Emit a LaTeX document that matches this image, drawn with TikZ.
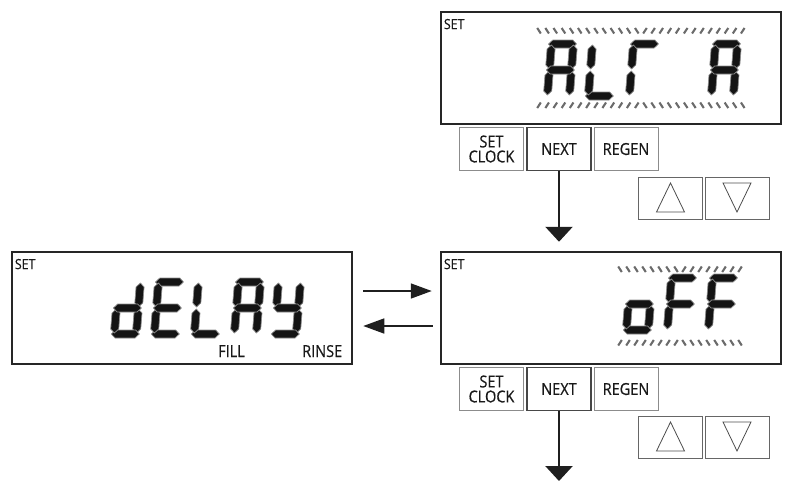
\documentclass[tikz,border=0pt]{standalone}
\usepackage{fontspec}
\setmainfont[FakeStretch=0.88,FakeBold=0.5]{Open Sans}
\usetikzlibrary{arrows.meta}
\tikzset{
 display/.style={draw=black!85, line width=2.5pt, minimum width=340pt, minimum height=112pt, inner sep=0pt},
 btn/.style={draw=black!45, line width=1pt, minimum width=64pt, minimum height=43pt, inner sep=0pt, font=\fontsize{16.5}{17}\selectfont, text=black!90, align=center},
 nextbtn/.style={btn, draw=black!72, line width=1.3pt},
 arrbtn/.style={draw=black!60, line width=1pt, minimum width=64pt, minimum height=42pt, inner sep=0pt},
 tri/.style={draw=black!70, line width=0.8pt, line join=miter},
 lbl/.style={inner sep=0pt, font=\fontsize{14}{15}\selectfont, text=black!90},
 sublbl/.style={inner sep=0pt, font=\fontsize{16.5}{17}\selectfont, text=black!90},
 varrow/.style={line width=2.6pt, -{Triangle[length=15pt,width=27pt]}, draw=black!88},
 harrow/.style={line width=1.6pt, -{Triangle[length=21pt,width=15pt]}, draw=black!88},
 segm/.style={fill=black!92, draw=black!45, line width=0.7pt, line join=round},
 tick/.style={draw=black!58, line width=2.1pt},
}
\newcommand\SgA{\path[segm] (1,56)--(5,60)--(25,60)--(29,56)--(25,52)--(5,52)--cycle;}
\newcommand\SgB{\path[segm] (26,31)--(30,35)--(30,51)--(26,55)--(22,51)--(22,35)--cycle;}
\newcommand\SgC{\path[segm] (26,5)--(30,9)--(30,25)--(26,29)--(22,25)--(22,9)--cycle;}
\newcommand\SgD{\path[segm] (1,4)--(5,8)--(25,8)--(29,4)--(25,0)--(5,0)--cycle;}
\newcommand\SgE{\path[segm] (4,5)--(8,9)--(8,25)--(4,29)--(0,25)--(0,9)--cycle;}
\newcommand\SgF{\path[segm] (4,31)--(8,35)--(8,51)--(4,55)--(0,51)--(0,35)--cycle;}
\newcommand\SgG{\path[segm] (1,30)--(5,34)--(25,34)--(29,30)--(25,26)--(5,26)--cycle;}
\newcommand\segglyph[3]{\begin{scope}[shift={(#1,#2)},y=1pt,xslant=0.08]#3\end{scope}}
\newcommand\tickrow[5]{%
 \pgfmathsetmacro\tcen{#1+(#2-1)*#3/2}%
 \foreach \k in {1,...,#2}{%
   \pgfmathsetmacro\tkx{#1+(\k-1)*#3}%
   \pgfmathsetmacro\tkd{#5*1.8*sign(\tkx-\tcen)}%
   \pgfmathsetmacro\tka{\tkx+\tkd}%
   \pgfmathsetmacro\tkb{\tkx-\tkd}%
   \draw[tick] (\tka,#4) -- (\tkb,#4+5.5);%
 }}
\begin{document}
\begin{tikzpicture}[x=1pt,y=-1pt]
\useasboundingbox (0,0) rectangle (786,482);
% displays
\node[display] (d1) at (611,68) {};
\node[display] (d2) at (611,308) {};
\node[display] (d3) at (182,308) {};
\node[lbl, anchor=north west] (s1) at ([shift={(4,8)}]d1.north west) {SET};
\node[lbl, anchor=north west] (s2) at ([shift={(4,8)}]d2.north west) {SET};
\node[lbl, anchor=north west] (s3) at ([shift={(4,8)}]d3.north west) {SET};
\node[sublbl, anchor=base west] (fill) at (218,357) {FILL};
\node[sublbl, anchor=base west] (rinse) at (302,357) {RINSE};
% buttons row 1
\node[btn] (c1) at (491.5,149) {SET\\[-2pt]CLOCK};
\node[nextbtn] (n1) at (559,149) {NEXT};
\node[btn] (r1) at (626,149) {REGEN};
\node[arrbtn] (u1) at (670.5,198) {};
\node[arrbtn] (v1) at (737,198) {};
\draw[tri] (u1.center) ++(0,-15) -- ++(14,29) -- ++(-28,0) -- cycle;
\draw[tri] (v1.center) ++(0,14) -- ++(14,-29) -- ++(-28,0) -- cycle;
% buttons row 2
\node[btn] (c2) at (491.5,389) {SET\\[-2pt]CLOCK};
\node[nextbtn] (n2) at (559,389) {NEXT};
\node[btn] (r2) at (626,389) {REGEN};
\node[arrbtn] (u2) at (670.5,437) {};
\node[arrbtn] (v2) at (737,437) {};
\draw[tri] (u2.center) ++(0,-15) -- ++(14,29) -- ++(-28,0) -- cycle;
\draw[tri] (v2.center) ++(0,14) -- ++(14,-29) -- ++(-28,0) -- cycle;
% connectors
\coordinate (bend) at (559,481);
\draw[varrow, shorten >=9pt] (n1.south) -- (d2.north -| n1.south);
\draw[varrow] (n2.south) -- (bend);
\draw[harrow, shorten <=10pt, shorten >=8pt] ([yshift=17pt]d3.east) -- ([yshift=17pt]d2.west);
\draw[harrow, shorten <=7pt, shorten >=10pt] ([yshift=-18pt]d2.west) -- ([yshift=-18pt]d3.east);
% ALT A
\segglyph{543}{100}{\SgA\SgB\SgC\SgE\SgF\SgG}
\segglyph{584}{100}{\SgD\SgE\SgF}
\segglyph{625}{100}{\SgA\SgE\SgF}
\segglyph{707}{100}{\SgA\SgB\SgC\SgE\SgF\SgG}
\tickrow{539}{26}{8.15}{28}{1}
\tickrow{539}{26}{8.15}{102.5}{-1}
% oFF
\segglyph{622}{334}{\SgC\SgD\SgE\SgG}
\segglyph{663}{334}{\SgA\SgE\SgF\SgG}
\segglyph{704}{334}{\SgA\SgE\SgF\SgG}
\tickrow{620}{16}{8}{266.5}{1}
\tickrow{620}{16}{8}{340}{-1}
% dELAY
\segglyph{110}{338}{\SgB\SgC\SgD\SgE\SgG}
\segglyph{150}{338}{\SgA\SgD\SgE\SgF\SgG}
\segglyph{190}{338}{\SgD\SgE\SgF}
\segglyph{230}{338}{\SgA\SgB\SgC\SgE\SgF\SgG}
\segglyph{270}{338}{\SgB\SgC\SgD\SgF\SgG}
\end{tikzpicture}
\end{document}
